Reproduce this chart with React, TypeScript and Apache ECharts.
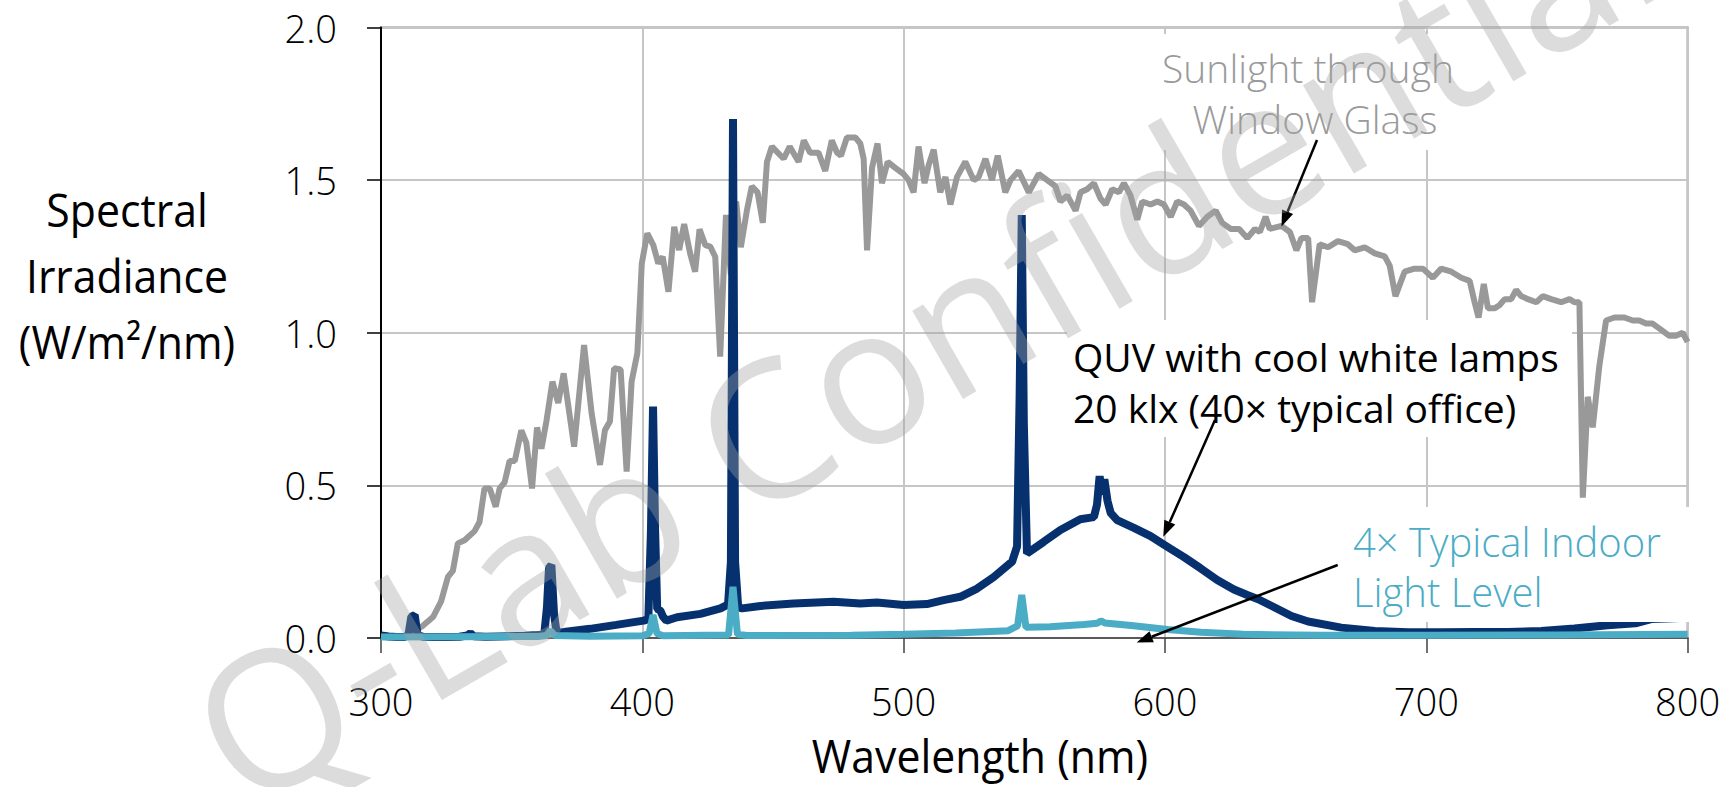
import React, { useEffect, useRef } from 'react';
import * as echarts from 'echarts';

const xTickValues = [300, 400, 500, 600, 700, 800];
const yTickValues = [0, 0.5, 1.0, 1.5, 2.0];

// Sunlight through window glass [nm, W/m2/nm]
const sunlightData: [number, number][] = [
  [305, 0], [309, 0.005], [312, 0.02], [316, 0.04], [320, 0.07], [323, 0.12], [325.6, 0.2], [327.5, 0.22],
  [329.4, 0.31], [332, 0.32], [335.8, 0.35], [337.7, 0.38], [339.6, 0.49], [341.6, 0.49], [343.9, 0.43],
  [345.4, 0.49], [347.3, 0.51], [349.2, 0.58], [351.2, 0.58], [353.7, 0.68], [355.6, 0.64], [357.8, 0.49],
  [359.7, 0.69], [361.4, 0.62], [363.3, 0.71], [365.6, 0.84], [367.8, 0.77], [369.9, 0.867], [373.9, 0.627],
  [377.7, 0.96], [380.6, 0.736], [383.8, 0.567], [385.7, 0.681], [387.6, 0.709], [389.2, 0.884], [391.7, 0.88],
  [394, 0.545], [395.9, 0.84], [398.1, 0.933], [399.8, 1.227], [401.9, 1.326], [404.2, 1.287], [406.1, 1.227],
  [407.8, 1.249], [410, 1.134], [412.2, 1.347], [414.1, 1.271], [416, 1.356], [418.3, 1.26], [420.2, 1.2],
  [421.9, 1.339], [424.1, 1.287], [426, 1.282], [427.9, 1.249], [429.8, 0.922], [432, 1.386], [433.9, 1.189],
  [435.9, 1.43], [437.7, 1.28], [440, 1.40], [441.9, 1.48], [444.1, 1.46], [446.1, 1.36], [447.7, 1.56],
  [449.6, 1.61], [454.1, 1.57], [456.4, 1.61], [459.8, 1.56], [461.8, 1.63], [464.2, 1.59], [467.4, 1.59],
  [470, 1.53], [472.5, 1.63], [474.5, 1.59], [476, 1.58], [478.3, 1.64], [481.5, 1.64], [483.4, 1.62],
  [484.7, 1.57], [486, 1.27], [487.9, 1.54], [490, 1.62], [491.7, 1.49], [493.9, 1.56], [496.8, 1.54],
  [500, 1.52], [501.9, 1.50], [503.8, 1.46], [505.7, 1.61], [508, 1.49], [509.6, 1.55], [511.5, 1.60],
  [514, 1.46], [516, 1.51], [517.9, 1.42], [520.4, 1.51], [523.6, 1.56], [526.8, 1.50], [528.7, 1.51],
  [531.3, 1.57], [533.8, 1.50], [536, 1.58], [538.9, 1.46], [540.9, 1.50], [544, 1.53], [547.9, 1.46],
  [551.7, 1.52], [554.9, 1.50], [558.1, 1.48], [560, 1.43], [562.6, 1.45], [565.8, 1.40], [567.7, 1.46],
  [570.2, 1.47], [572.8, 1.49], [575.3, 1.44], [577.3, 1.42], [579.8, 1.47], [582.4, 1.46], [584.3, 1.49],
  [586.8, 1.45], [589.4, 1.37], [591.3, 1.43], [594.5, 1.42], [597.1, 1.43], [599.6, 1.42], [602.2, 1.38],
  [604.7, 1.43], [607.3, 1.42], [609.8, 1.40], [613, 1.35], [616.2, 1.38], [619.4, 1.40], [621.9, 1.36],
  [625.2, 1.34], [628.4, 1.34], [631.5, 1.31], [634.4, 1.34], [636.3, 1.33], [638.5, 1.38], [640.1, 1.34],
  [644.6, 1.35], [647.8, 1.33], [650.3, 1.27], [652.2, 1.31], [654.8, 1.31], [656.3, 1.10], [659.2, 1.29],
  [662.4, 1.28], [666.2, 1.30], [670, 1.29], [672.6, 1.27], [676.4, 1.28], [680.3, 1.26], [684.1, 1.25],
  [686, 1.22], [688.2, 1.12], [691.7, 1.20], [695.5, 1.21], [698.7, 1.21], [702.5, 1.18], [705.7, 1.21],
  [709.6, 1.20], [713.4, 1.18], [716.6, 1.17], [718.5, 1.10], [720, 1.05], [722, 1.16], [723.6, 1.08],
  [726.1, 1.08], [728, 1.09], [730, 1.11], [732.5, 1.11], [734.4, 1.14], [736.3, 1.12], [738.9, 1.11],
  [742.1, 1.10], [744.6, 1.12], [747.8, 1.11], [751.6, 1.10], [754.8, 1.11], [756.7, 1.10], [758.6, 1.10],
  [759.9, 0.46], [761.8, 0.79], [763.7, 0.69], [766.2, 0.89], [768.8, 1.04], [772, 1.05], [775.8, 1.05],
  [779, 1.04], [781.5, 1.04], [784.1, 1.03], [786.6, 1.03], [789.8, 1.01], [793, 0.99], [795.5, 0.99],
  [798.1, 1.00], [800, 0.97],
];

// QUV with cool white lamps, 20 klx
const quvData: [number, number][] = [
  [300, 0.008], [303, 0.005], [306, 0.003], [309, 0.003], [310.5, 0.01], [311.6, 0.07], [312.9, 0.075],
  [314, 0.01], [316, 0.004], [320, 0.003], [325, 0.003], [330, 0.004], [333, 0.008], [334.2, 0.016],
  [335.4, 0.006], [340, 0.004], [345, 0.005], [355, 0.007], [360, 0.01], [362.5, 0.014], [363.5, 0.1],
  [364.3, 0.23], [365.2, 0.239], [366.2, 0.08], [367.2, 0.018], [370, 0.02], [380, 0.03], [390, 0.043],
  [400.5, 0.057], [402.3, 0.062], [403.3, 0.35], [404.1, 0.758], [404.9, 0.35], [405.7, 0.095],
  [406.9, 0.09], [407.9, 0.07], [409.2, 0.057], [413.3, 0.068], [422.2, 0.079], [429.9, 0.097],
  [432.8, 0.11], [433.9, 0.25], [434.7, 1.70], [435.5, 0.25], [436.7, 0.1], [438.2, 0.097], [445.2, 0.105],
  [457.9, 0.113], [473.2, 0.119], [483.4, 0.113], [489.8, 0.116], [500, 0.108], [508.9, 0.111],
  [515.3, 0.124], [521.7, 0.135], [528.1, 0.162], [534.5, 0.2], [541.5, 0.25], [543.4, 0.3], [544.4, 0.8],
  [545.2, 1.386], [546.0, 0.7], [547.2, 0.277], [553.6, 0.315], [560, 0.354], [567.6, 0.389], [572.8, 0.396],
  [574.0, 0.437], [575.0, 0.53], [576.0, 0.47], [576.8, 0.52], [578.0, 0.45], [579.2, 0.41], [581.7, 0.386],
  [588.1, 0.361], [594.5, 0.334], [599.6, 0.306], [602.2, 0.292], [607.3, 0.265], [613.7, 0.228],
  [620, 0.19], [626.4, 0.159], [631.5, 0.141], [635.7, 0.127], [642, 0.1], [648.4, 0.072], [654.8, 0.054],
  [667.5, 0.034], [680.3, 0.023], [693, 0.019], [705.7, 0.019], [718.5, 0.02], [731.2, 0.02], [744, 0.023],
  [756.7, 0.031], [769.4, 0.042], [780, 0.048], [786, 0.062], [800, 0.066],
];

// 4x typical indoor light level
const indoorData: [number, number][] = [
  [300, 0.003], [330, 0.004], [360, 0.005], [363.3, 0.008], [364.8, 0.025], [366.4, 0.008], [380, 0.006],
  [400, 0.007], [402.6, 0.015], [404.1, 0.075], [405.6, 0.015], [408, 0.007], [433, 0.01], [434.7, 0.168],
  [436.4, 0.012], [440, 0.008], [480, 0.009], [500, 0.012], [520, 0.016], [540, 0.024], [543.6, 0.04],
  [545.2, 0.141], [546.8, 0.035], [556, 0.037], [569, 0.044], [574, 0.048], [575.5, 0.056], [577, 0.049],
  [580, 0.047], [588, 0.04], [601, 0.028], [613.7, 0.019], [630, 0.012], [660, 0.009], [700, 0.009],
  [750, 0.01], [800, 0.012],
];

const FONT = "'Open Sans', 'Noto Sans', sans-serif";

function arrow(x1: number, y1: number, x2: number, y2: number) {
  const ang = Math.atan2(y2 - y1, x2 - x1);
  const L = 16;
  const W = 6;
  const bx = x2 - L * Math.cos(ang);
  const by = y2 - L * Math.sin(ang);
  const px = -Math.sin(ang) * W;
  const py = Math.cos(ang) * W;
  return [
    { type: 'line', z: 150, shape: { x1, y1, x2: bx, y2: by }, style: { stroke: '#000', lineWidth: 2.5 } },
    {
      type: 'polygon', z: 150,
      shape: { points: [[x2, y2], [bx + px, by + py], [bx - px, by - py]] },
      style: { fill: '#000' },
    },
  ];
}

function label(text: string, x: number, y: number, size: number, color: string, align: string, weight: any = 'normal', scaleX = 1) {
  return {
    type: 'text', z: 160, x, y, scaleX,
    style: {
      text, fill: color, fontSize: size, fontFamily: FONT, fontWeight: weight,
      textAlign: align, textVerticalAlign: 'middle', align, verticalAlign: 'middle',
    },
  };
}

function whiteBox(x1: number, y1: number, x2: number, y2: number) {
  return { type: 'rect', z: 120, shape: { x: x1, y: y1, width: x2 - x1, height: y2 - y1 }, style: { fill: '#fff' } };
}

export default function App() {
  const ref = useRef<HTMLDivElement>(null);
  useEffect(() => {
    if (!ref.current) return;
    const chart = echarts.init(ref.current, undefined, { renderer: 'svg' });
    const option: any = {
      animation: false,
      textStyle: { fontFamily: FONT },
      grid: {
        left: 381, top: 27.5, right: 37.4, bottom: 149,
        show: true, borderColor: '#8a8a8a', borderWidth: 2, backgroundColor: 'transparent',
      },
      xAxis: {
        type: 'value', min: xTickValues[0], max: xTickValues[xTickValues.length - 1], interval: 100,
        axisLine: { show: true, lineStyle: { color: '#595959', width: 2 } },
        axisTick: { show: true, inside: false, length: 15, lineStyle: { color: '#404040', width: 1.5 } },
        axisLabel: { margin: 44, fontSize: 38, fontWeight: 300, color: '#000', fontFamily: FONT },
        splitLine: { show: true, lineStyle: { color: '#c6c6c6', width: 2 } },
      },
      yAxis: {
        type: 'value', min: yTickValues[0], max: yTickValues[yTickValues.length - 1], interval: 0.5,
        axisLine: { show: true, lineStyle: { color: '#000', width: 2 } },
        axisTick: { show: true, inside: false, length: 14, lineStyle: { color: '#000', width: 1.5 } },
        axisLabel: {
          margin: 44, fontSize: 38, fontWeight: 300, color: '#000', fontFamily: FONT,
          formatter: (v: number) => v.toFixed(1),
        },
        splitLine: { show: true, lineStyle: { color: '#c6c6c6', width: 2 } },
      },
      series: [
        {
          name: 'Sunlight through Window Glass', type: 'line', data: sunlightData, showSymbol: false, z: 2,
          lineStyle: { color: '#999999', width: 6 },
        },
        {
          name: 'QUV with cool white lamps', type: 'line', data: quvData, showSymbol: false, z: 3,
          lineStyle: { color: '#06316e', width: 8 },
        },
        {
          name: '4× Typical Indoor Light Level', type: 'line', data: indoorData, showSymbol: false, z: 4,
          lineStyle: { color: '#4bacc6', width: 7 },
        },
      ],
      graphic: [
        whiteBox(1148, 34, 1470, 150),
        whiteBox(1067, 320, 1572, 437),
        whiteBox(1347, 507, 1700, 622),
        label('Sunlight through', 1308, 67, 39, '#9a9a9a', 'center', 300),
        label('Window Glass', 1315, 118, 39, '#9a9a9a', 'center', 300),
        label('QUV with cool white lamps', 1073, 356, 39, '#000', 'left'),
        label('20 klx (40× typical office)', 1073, 407, 39, '#000', 'left'),
        label('4× Typical Indoor', 1353, 541, 40, '#4bacc6', 'left', 300),
        label('Light Level', 1353, 591, 40, '#4bacc6', 'left', 300),
        ...arrow(1317, 140, 1281.5, 226.5),
        ...arrow(1215, 420, 1163.3, 536.7),
        ...arrow(1337.7, 565, 1136.7, 642.5),
        label('Spectral', 127, 209, 46, '#000', 'center', 'normal', 0.93),
        label('Irradiance', 127, 275, 46, '#000', 'center', 'normal', 0.93),
        label('(W/m²/nm)', 127, 341, 46, '#000', 'center', 'normal', 0.93),
        label('Wavelength (nm)', 980, 756, 45, '#000', 'center', 'normal', 0.95),
        {
          type: 'text', z: 200, x: 208, y: 750, rotation: Math.PI / 6,
          style: {
            text: 'Q-Lab Confidential', fill: 'rgba(164,164,164,0.38)', fontSize: 190, fontFamily: FONT,
            textAlign: 'left', textVerticalAlign: 'middle', align: 'left', verticalAlign: 'middle',
          },
        },
      ],
    };
    chart.setOption(option);
    return () => chart.dispose();
  }, []);
  return <div ref={ref} style={{ position: 'absolute', left: 0, top: 0, width: 1725, height: 787, background: '#fff' }} />;
}
